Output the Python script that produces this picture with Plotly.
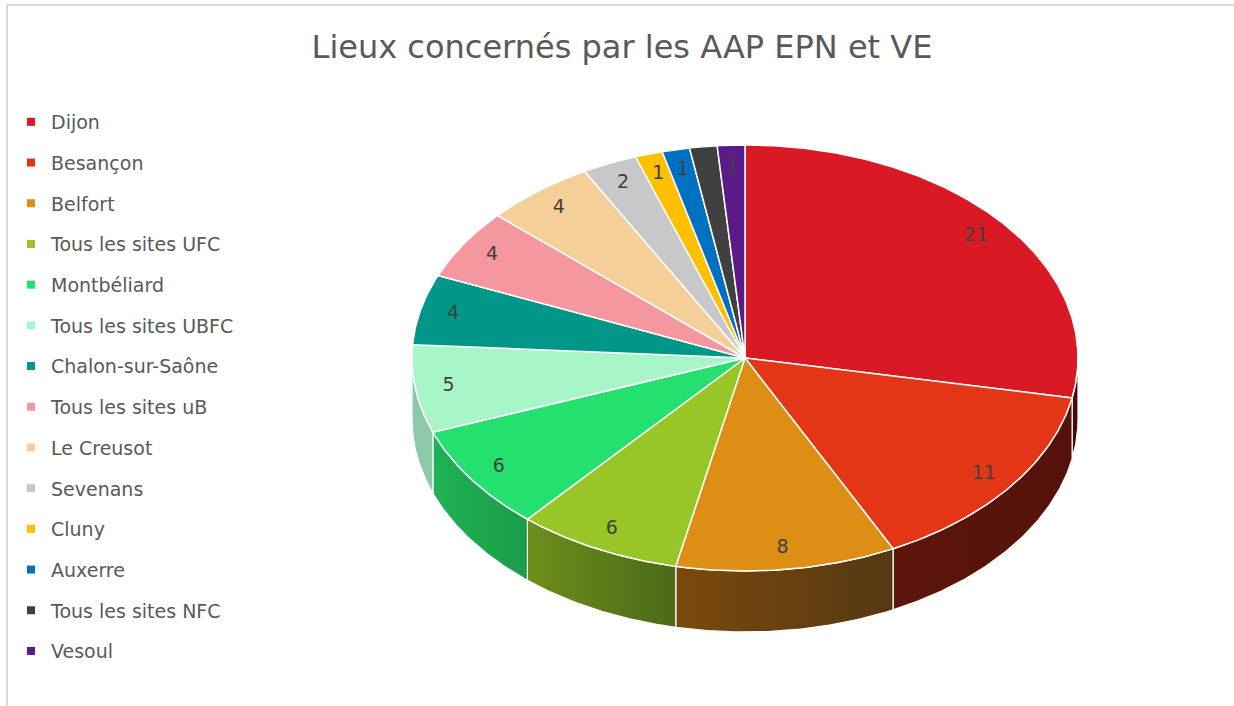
import numpy as np
import plotly.graph_objects as go

# ---- data ----
categories = ["Dijon", "Besançon", "Belfort", "Tous les sites UFC", "Montbéliard",
              "Tous les sites UBFC", "Chalon-sur-Saône", "Tous les sites uB", "Le Creusot",
              "Sevenans", "Cluny", "Auxerre", "Tous les sites NFC", "Vesoul"]
values = [21, 11, 8, 6, 6, 5, 4, 4, 4, 2, 1, 1, 1, 1]
top_colors = ["#d91a25", "#e33616", "#dd8e14", "#97c626", "#24e06e", "#a8f5c8", "#009688",
              "#f4979e", "#f5cf98", "#c8c8c8", "#ffc000", "#0070c0", "#404040", "#5c1a88"]
side_left = ["#4e0a0e", "#5c150a", "#7a4a0c", "#6e8e1c", "#1fb255", "#8ccaa6", "#00645a",
             "#a06468", "#a08a64", "#888888", "#a88000", "#004a80", "#2a2a2a", "#3c1058"]
side_right = ["#4a080c", "#55120a", "#553812", "#4a6a18", "#1a9c48", "#8ec8a8", "#00645a",
              "#a06468", "#a08a64", "#888888", "#a88000", "#004a80", "#2a2a2a", "#3c1058"]

title = "Lieux concernés par les AAP EPN et VE"
W, H = 1234, 706
# pie geometry (pixel units)
cx, cy, rx, ry, depth = 745, 358, 333, 213, 61
label_r = 0.9
FONT = "DejaVu Sans"
TXT = "#595959"

vals = np.array(values, dtype=float)
cum = np.concatenate([[0], np.cumsum(vals)]) / vals.sum() * 360.0


def pt(theta_deg, f=1.0, dy=0.0):
    t = np.radians(theta_deg)
    return cx + f * rx * np.sin(t), cy - f * ry * np.cos(t) + dy


fig = go.Figure()

# side faces (visible between 90 and 270 degrees)
for i in range(len(values)):
    a, b = max(cum[i], 90.0), min(cum[i + 1], 270.0)
    if b <= a:
        continue
    th = np.linspace(a, b, max(8, int((b - a) * 2)))
    xt, yt = pt(th)
    xb, yb = pt(th[::-1], dy=depth)
    xs = np.concatenate([xt, xb, xt[:1]])
    ys = np.concatenate([yt, yb, yt[:1]])
    fig.add_trace(go.Scatter(
        x=xs, y=ys, mode="lines", fill="toself",
        fillgradient=dict(type="horizontal",
                          colorscale=[[0, side_left[i]], [1, side_right[i]]]),
        line=dict(color="white", width=1.2), hoverinfo="skip", showlegend=False))

# top faces
for i in range(len(values)):
    th = np.linspace(cum[i], cum[i + 1], max(6, int((cum[i + 1] - cum[i]) * 2)))
    xa, ya = pt(th)
    xs = np.concatenate([[cx], xa, [cx]])
    ys = np.concatenate([[cy], ya, [cy]])
    fig.add_trace(go.Scatter(
        x=xs, y=ys, mode="lines", fill="toself", fillcolor=top_colors[i],
        line=dict(color="white", width=1.5), name=categories[i],
        hoverinfo="name", showlegend=False))

# data labels
mid = (cum[:-1] + cum[1:]) / 2
lx, ly = pt(mid, f=label_r)
fig.add_trace(go.Scatter(
    x=lx, y=ly, mode="text", text=[str(v) for v in values],
    textfont=dict(family=FONT, size=19, color="#404040"),
    hoverinfo="skip", showlegend=False))

# legend entries
for i, c in enumerate(categories):
    fig.add_trace(go.Scatter(
        x=[None], y=[None], mode="markers", name=c, legendgroup=c,
        marker=dict(symbol="square", size=8, color=top_colors[i]),
        showlegend=True))

fig.update_layout(
    width=W, height=H,
    margin=dict(l=0, r=0, t=0, b=0),
    paper_bgcolor="white", plot_bgcolor="white",
    title=dict(text=title, x=622 / W, xanchor="center", y=1 - 47 / H, yanchor="middle",
               font=dict(family=FONT, size=32, color=TXT)),
    xaxis=dict(range=[0, W], visible=False, fixedrange=True),
    yaxis=dict(range=[H, 0], visible=False, fixedrange=True),
    legend=dict(x=11 / W, xanchor="left", y=1 - 103 / H, yanchor="top",
                font=dict(family=FONT, size=19, color=TXT),
                tracegroupgap=13, bgcolor="rgba(0,0,0,0)"),
    shapes=[
        dict(type="line", xref="paper", yref="paper", x0=6 / W, x1=1, y0=1 - 5 / H, y1=1 - 5 / H,
             line=dict(color="#d9d9d9", width=2)),
        dict(type="line", xref="paper", yref="paper", x0=7 / W, x1=7 / W, y0=0, y1=1 - 5 / H,
             line=dict(color="#d9d9d9", width=2)),
    ],
)

fig.write_html("out.html", config={"displayModeBar": False},
               post_script="document.body.style.margin='0px';")
